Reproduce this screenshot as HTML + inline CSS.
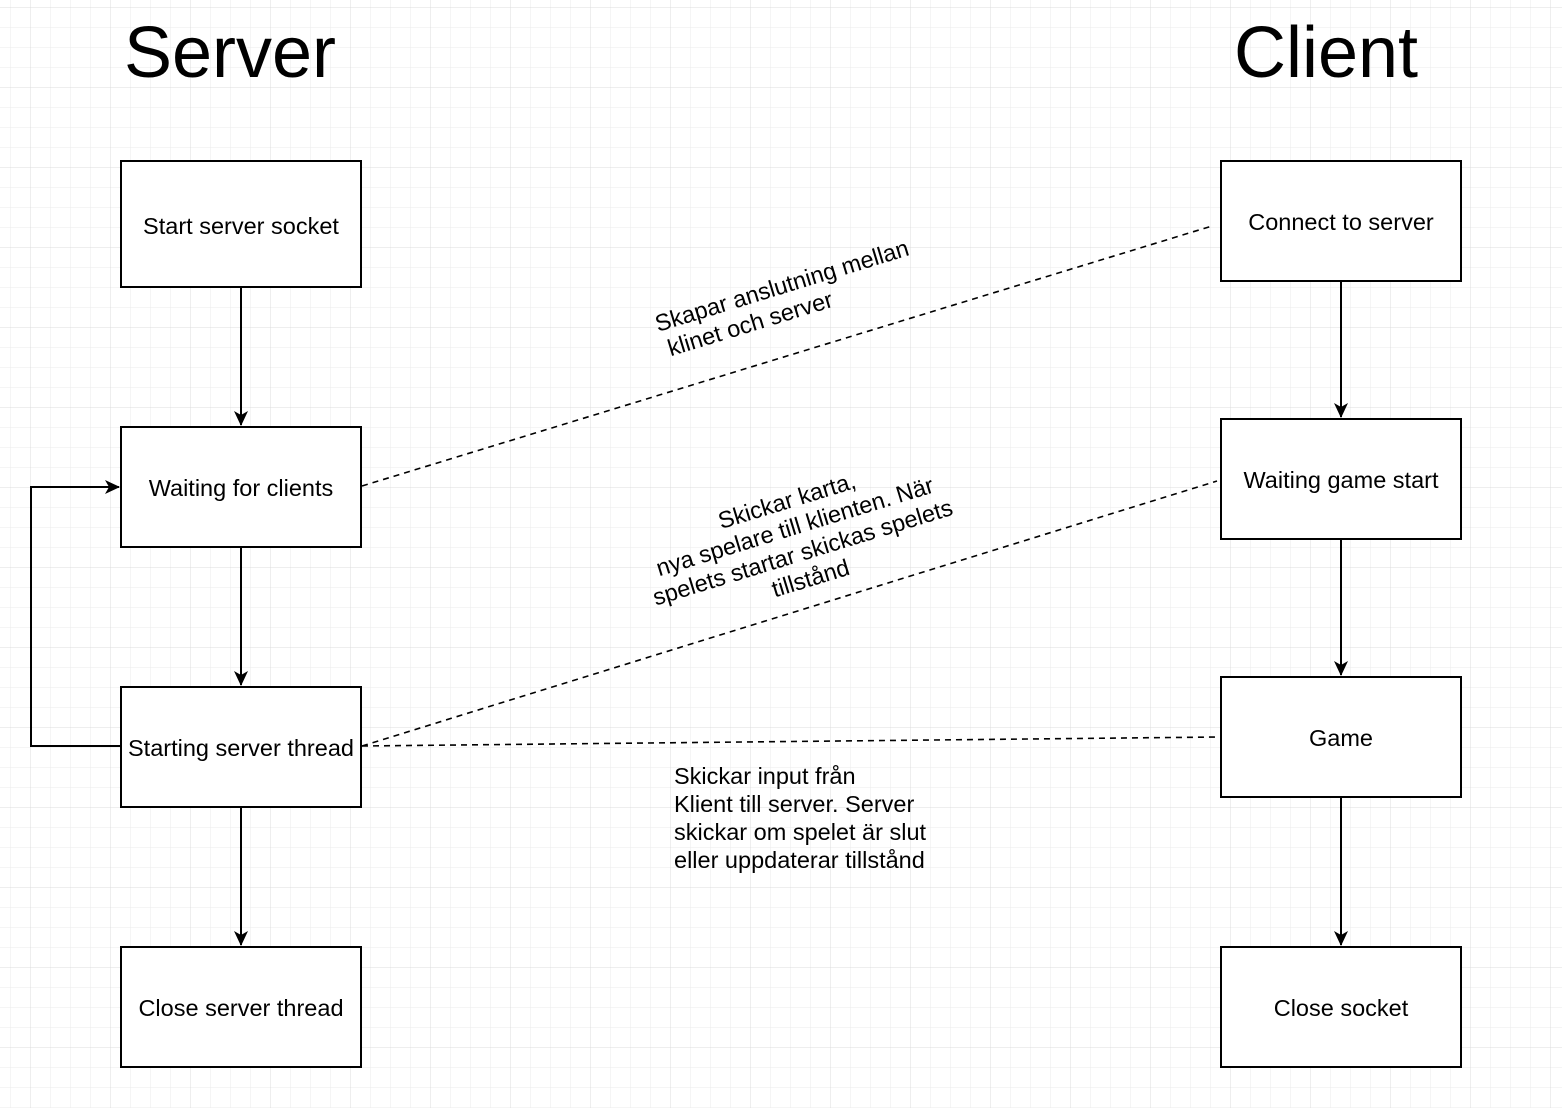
<!DOCTYPE html>
<html><head><meta charset="utf-8"><style>
html,body{margin:0;padding:0;background:#fff;}
svg{display:block;font-family:"Liberation Sans",Arial,sans-serif;}
</style></head><body>
<svg width="1562" height="1108" viewBox="0 0 1562 1108" xmlns="http://www.w3.org/2000/svg">
<defs>
<pattern id="minor" x="10" y="7" width="20" height="20" patternUnits="userSpaceOnUse">
<path d="M0 0H20M0 0V20" stroke="#ebebeb" stroke-width="1" fill="none"/>
</pattern>
<pattern id="major" x="30" y="7" width="80" height="80" patternUnits="userSpaceOnUse">
<path d="M0 0H80M0 0V80" stroke="#dcdcdc" stroke-width="1" fill="none"/>
</pattern>
<marker id="arr" markerWidth="16" markerHeight="16" refX="14" refY="7" orient="auto" markerUnits="userSpaceOnUse">
<path d="M0 0L15 7L0 14L4 7Z" fill="#000"/>
</marker>
</defs>
<rect width="1562" height="1108" fill="url(#minor)"/>
<rect width="1562" height="1108" fill="url(#major)"/>

<text x="230" y="77" font-size="72" text-anchor="middle">Server</text>
<text x="1326" y="77" font-size="72" text-anchor="middle">Client</text>

<g fill="#fff" stroke="#000" stroke-width="2">
<rect x="121" y="161" width="240" height="126"/>
<rect x="121" y="427" width="240" height="120"/>
<rect x="121" y="687" width="240" height="120"/>
<rect x="121" y="947" width="240" height="120"/>
<rect x="1221" y="161" width="240" height="120"/>
<rect x="1221" y="419" width="240" height="120"/>
<rect x="1221" y="677" width="240" height="120"/>
<rect x="1221" y="947" width="240" height="120"/>
</g>
<g font-size="23.5" text-anchor="middle">
<text x="241" y="234">Start server socket</text>
<text x="241" y="496">Waiting for clients</text>
<text x="241" y="756">Starting server thread</text>
<text x="241" y="1016">Close server thread</text>
<text x="1341" y="230">Connect to server</text>
<text x="1341" y="488">Waiting game start</text>
<text x="1341" y="746">Game</text>
<text x="1341" y="1016">Close socket</text>
</g>

<g stroke="#000" stroke-width="2" fill="none">
<path d="M241 287V425" marker-end="url(#arr)"/>
<path d="M241 547V685" marker-end="url(#arr)"/>
<path d="M241 807V945" marker-end="url(#arr)"/>
<path d="M1341 281V417" marker-end="url(#arr)"/>
<path d="M1341 539V675" marker-end="url(#arr)"/>
<path d="M1341 797V945" marker-end="url(#arr)"/>
<path d="M121 746H31V487H119" marker-end="url(#arr)"/>
</g>
<g stroke="#000" stroke-width="1.6" stroke-dasharray="6 5" fill="none">
<path d="M362 486L1212 226"/>
<path d="M362 746L1217 481"/>
<path d="M362 746L1219 737"/>
</g>

<g font-size="23.5">
<g transform="translate(658,332) rotate(-17)">
<text x="0" y="0">Skapar anslutning mellan</text>
<text x="5" y="27">klinet och server</text>
</g>
<g transform="translate(805,560) rotate(-17)" text-anchor="middle">
<text x="0" y="-54">Skickar karta,</text>
<text x="0" y="-27">nya spelare till klienten. När</text>
<text x="0" y="0">spelets startar skickas spelets</text>
<text x="0" y="27">tillstånd</text>
</g>
<text x="674" y="784">Skickar input från</text>
<text x="674" y="812">Klient till server. Server</text>
<text x="674" y="840">skickar om spelet är slut</text>
<text x="674" y="868">eller uppdaterar tillstånd</text>
</g>
</svg>
</body></html>
